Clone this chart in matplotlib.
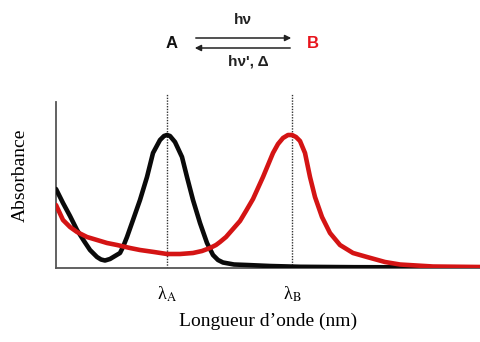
import matplotlib
matplotlib.use("Agg")
import matplotlib.pyplot as plt
from matplotlib.patches import FancyArrowPatch

plt.rcParams['mathtext.fontset'] = 'stix'

# Spectra (x: wavelength, arbitrary units; y: absorbance, arbitrary units)
black_x = [0, 7, 14, 21, 28, 34, 41, 45, 49, 54, 59, 64, 67, 71, 77, 84, 91, 97, 104, 108, 111,
           114, 119, 126, 131, 137, 144, 151, 157, 162, 167, 178, 191, 214, 244, 300, 425]
black_y = [79, 65, 52, 38, 27, 18, 11, 8.5, 7.5, 9, 12, 15, 21, 31, 48, 68, 91, 115, 128, 132, 133,
           132, 126, 111, 91, 68, 45, 25, 13, 8, 5.5, 3.5, 3, 2, 1.2, 0.8, 0.5]

red_x = [0, 7, 14, 21, 31, 41, 51, 61, 74, 84, 98, 111, 124, 137, 146, 154, 160, 164, 170, 177,
         184, 190, 197, 207, 217, 222, 227, 232, 236, 240, 244, 249, 254, 259, 266, 274, 284, 297,
         311, 329, 344, 377, 425]
red_y = [63, 48, 41, 36, 31, 28, 25, 23, 20, 18, 16, 14, 14, 15, 17, 20, 23, 26, 31, 39,
         47, 57, 69, 91, 115, 124, 130, 133, 133, 131, 127, 115, 91, 71, 51, 35, 23, 15,
         11, 6, 3.5, 1.5, 1]

peaks_x = [111, 236]
peak_labels = ['\u03bb$_{\\mathrm{A}}$', '\u03bb$_{\\mathrm{B}}$']

fig = plt.figure(figsize=(4.81, 3.42), dpi=100)
W, H = 481, 342
ax = fig.add_axes([56 / W, (H - 268) / H, (481 - 56) / W, (268 - 90) / H])
ax.set_xlim(0, 425)
ax.set_ylim(0, 178)

for px in peaks_x:
    ax.plot([px, px], [0, 175], color='#333333', lw=1.0, ls=(0, (1, 1)), zorder=1)

ax.plot(black_x, black_y, color='#0a0a0a', lw=3.3, solid_capstyle='round',
        solid_joinstyle='round', zorder=3)
ax.plot(red_x, red_y, color='#d41414', lw=3.3, solid_capstyle='round',
        solid_joinstyle='round', zorder=4)

for s in ['top', 'right']:
    ax.spines[s].set_visible(False)
ax.spines['left'].set_bounds(0, 166)
for s in ['left', 'bottom']:
    ax.spines[s].set_color('#555555')
    ax.spines[s].set_linewidth(1.3)
ax.set_xticks(peaks_x)
ax.set_xticklabels(peak_labels, fontsize=13, family='Liberation Serif')
ax.tick_params(axis='x', length=0, pad=12)
ax.set_yticks([])

ax.set_xlabel("Longueur d\u2019onde (nm)", family='Liberation Serif', fontsize=14, labelpad=6)
fig.text(20 / W, 1 - 175 / H, "Absorbance", family='Liberation Serif', fontsize=14,
         rotation=90, ha='center', va='center')

# Reaction scheme
fig.text(172 / W, 1 - 43 / H, "A", family='Liberation Sans', weight='bold', fontsize=12,
         ha='center', va='center', color='#111111')
fig.text(313 / W, 1 - 43 / H, "B", family='Liberation Sans', weight='bold', fontsize=12,
         ha='center', va='center', color='#e8141c')
fig.text(243 / W, 1 - 20 / H, "h\u03bd", family='Liberation Sans', weight='bold', fontsize=11,
         ha='center', va='center', color='#222222')
fig.text(248 / W, 1 - 62 / H, "h\u03bd', \u0394", family='Liberation Sans', weight='bold', fontsize=11,
         ha='center', va='center', color='#222222')
fig.add_artist(FancyArrowPatch((193 / W, 1 - 38 / H), (294 / W, 1 - 38 / H),
               transform=fig.transFigure, arrowstyle='-|>', mutation_scale=9, lw=1.1, color='#222222'))
fig.add_artist(FancyArrowPatch((293 / W, 1 - 48 / H), (192 / W, 1 - 48 / H),
               transform=fig.transFigure, arrowstyle='-|>', mutation_scale=9, lw=1.1, color='#222222'))

fig.savefig("out.png", dpi=100)
